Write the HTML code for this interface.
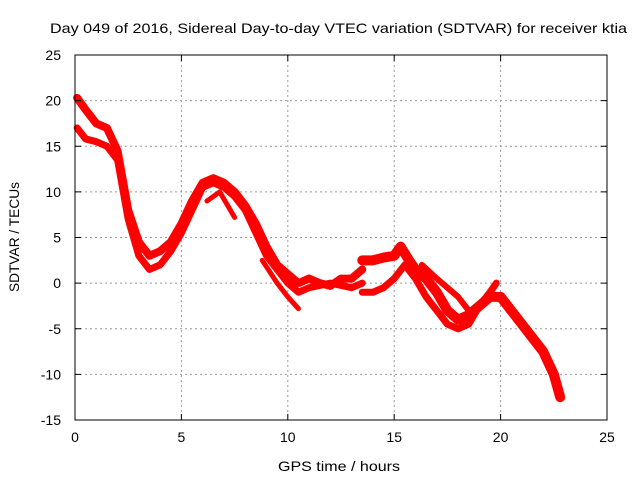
<!DOCTYPE html>
<html><head><meta charset="utf-8"><style>
body{margin:0;background:#fff;width:640px;height:480px;overflow:hidden}
svg{display:block;font-family:"Liberation Sans",sans-serif}
</style></head><body>
<svg id="chart" width="640" height="480">
<g id="grid"></g>
<g id="series"></g>
<rect x="75" y="55" width="532" height="365" fill="none" stroke="#000" stroke-width="1"/>
<g id="ticks"></g>
<text x="50" y="33" textLength="577" lengthAdjust="spacingAndGlyphs" font-size="14">Day 049 of 2016, Sidereal Day-to-day VTEC variation (SDTVAR) for receiver ktia</text>
<text x="278" y="471" textLength="122" lengthAdjust="spacingAndGlyphs" font-size="14">GPS time / hours</text>
<text x="19" y="237" text-anchor="middle" font-size="14" transform="rotate(-90 19 237)" textLength="110" lengthAdjust="spacingAndGlyphs">SDTVAR / TECUs</text>
</svg>
<script>
const xTicks=[0,5,10,15,20,25];
const yTicks=[25,20,15,10,5,0,-5,-10,-15];
const seriesA=[[0.1,20.3],[0.5,19],[1,17.5],[1.5,17],[2,14.5],[2.5,8],[3,4.5],[3.5,3],[4,3.5],[4.5,4.5],[5,6.5],[5.5,9],[6,11],[6.5,11.5],[7,11],[7.5,10],[8,8.5],[8.5,6.5],[9,4],[9.5,2],[10,1],[10.5,0],[11,0.5],[11.5,0],[12,-0.3],[12.5,0.5],[13,0.5],[13.5,1.5]];
const seriesB=[[0.1,17],[0.5,15.8],[1,15.5],[1.5,15],[2,13.5],[2.5,7],[3,3],[3.5,1.5],[4,2],[4.5,3.5],[5,5.5],[5.5,8],[6,10.5],[6.5,11],[7,10.5],[7.5,9.5],[8,8],[8.5,5.5],[9,3],[9.5,1.5],[10,0],[10.5,-1],[11,-0.5],[12,0],[13,-0.5],[13.5,0]];
const seriesC=[[6.2,9],[6.8,10],[7.5,7.2]];
const seriesD=[[8.8,2.5],[9.5,0],[10,-1.5],[10.5,-2.8]];
const seriesE=[[13.5,2.5],[14,2.5],[14.5,2.8],[15,3],[15.3,4],[15.7,2.5],[16,1.5],[16.5,0.5],[17,-1],[17.5,-3],[18,-4],[18.5,-3.5],[19,-2.5],[19.5,-1.5],[20,-1.5],[20.5,-3],[21,-4.5],[21.5,-6],[22,-7.5],[22.5,-10],[22.8,-12.5]];
const seriesF=[[13.5,-1],[14,-1],[14.5,-0.5],[15,0.5],[15.5,2],[16,0.5],[16.5,-1.5],[17,-3],[17.5,-4.5],[18,-5],[18.5,-4.5],[19,-2.5],[19.5,-1],[19.8,0]];
const seriesG=[[16.3,2],[17,0.5],[17.5,-0.5],[18,-1.5],[18.5,-3]];
const X=h=>75+h*532/25;
const Y=v=>55+(25-v)*365/40;
const NS='http://www.w3.org/2000/svg';
const grid=document.getElementById('grid'),ticks=document.getElementById('ticks'),ser=document.getElementById('series');
function mk(tag,attrs,parent){const e=document.createElementNS(NS,tag);for(const k in attrs)e.setAttribute(k,attrs[k]);parent.appendChild(e);return e;}
xTicks.forEach(t=>{
 if(t>0&&t<25){const g=mk('line',{x1:X(t),x2:X(t),y1:55,y2:420,stroke:'#999','stroke-dasharray':'2,3'},grid);
 
 }
 mk('line',{x1:X(t),x2:X(t),y1:420,y2:414,stroke:'#000'},ticks);
 mk('line',{x1:X(t),x2:X(t),y1:55,y2:61,stroke:'#000'},ticks);
 const l=mk('text',{x:X(t),y:442,'text-anchor':'middle','font-size':14},ticks);l.textContent=t;
 
 
});
yTicks.forEach(t=>{
 if(t<25&&t>-15){const g=mk('line',{x1:75,x2:607,y1:Y(t),y2:Y(t),stroke:'#999','stroke-dasharray':'2,3'},grid);
 
 }
 mk('line',{x1:75,x2:81,y1:Y(t),y2:Y(t),stroke:'#000'},ticks);
 mk('line',{x1:601,x2:607,y1:Y(t),y2:Y(t),stroke:'#000'},ticks);
 const l=mk('text',{x:61,y:Y(t)+5,'text-anchor':'end','font-size':14},ticks);l.textContent=t;
 
 
});
[[seriesA,8],[seriesB,7],[seriesC,5],[seriesD,5],[seriesE,10],[seriesF,7],[seriesG,6]].forEach(([s,w],i)=>{
 const p=mk('polyline',{points:s.map(d=>X(d[0])+','+Y(d[1])).join(' '),fill:'none',stroke:'#f00','stroke-width':w,'stroke-linejoin':'round','stroke-linecap':'round'},ser);
 
 
});
</script>
</body></html>
